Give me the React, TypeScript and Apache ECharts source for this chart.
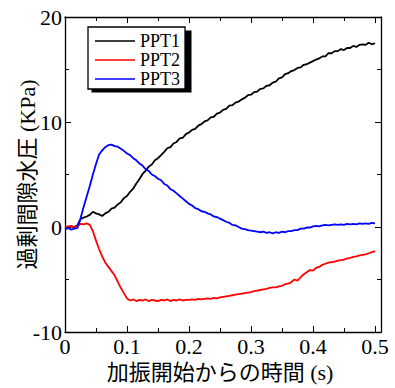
import React, { useEffect, useRef } from "react";
import * as echarts from "echarts";

const seriesNames = ["PPT1", "PPT2", "PPT3"];
const seriesColors = ["#000000", "#ff0000", "#0000ff"];

const timeS = [
  0, 0.005, 0.01, 0.015, 0.02, 0.025, 0.03, 0.035, 0.04, 0.045,
  0.05, 0.055, 0.06, 0.065, 0.07, 0.075, 0.08, 0.085, 0.09, 0.095,
  0.1, 0.105, 0.11, 0.115, 0.12, 0.125, 0.13, 0.135, 0.14, 0.145,
  0.15, 0.155, 0.16, 0.165, 0.17, 0.175, 0.18, 0.185, 0.19, 0.195,
  0.2, 0.205, 0.21, 0.215, 0.22, 0.225, 0.23, 0.235, 0.24, 0.245,
  0.25, 0.255, 0.26, 0.265, 0.27, 0.275, 0.28, 0.285, 0.29, 0.295,
  0.3, 0.305, 0.31, 0.315, 0.32, 0.325, 0.33, 0.335, 0.34, 0.345,
  0.35, 0.355, 0.36, 0.365, 0.37, 0.375, 0.38, 0.385, 0.39, 0.395,
  0.4, 0.405, 0.41, 0.415, 0.42, 0.425, 0.43, 0.435, 0.44, 0.445,
  0.45, 0.455, 0.46, 0.465, 0.47, 0.475, 0.48, 0.485, 0.49, 0.495,
  0.5,
];

const ppt1 = [
  0.0, -0.05, 0.05, 0.0, 0.15, 0.75, 0.9, 1.0, 1.15, 1.45,
  1.3, 1.2, 1.05, 1.3, 1.45, 1.75, 1.85, 2.15, 2.35, 2.75,
  2.95, 3.35, 3.65, 4.15, 4.55, 5.05, 5.35, 5.75, 5.95, 6.35,
  6.55, 6.85, 7.15, 7.5, 7.6, 7.95, 8.1, 8.45, 8.5, 8.85,
  9.0, 9.25, 9.35, 9.65, 9.8, 10.05, 10.15, 10.45, 10.5, 10.8,
  10.9, 11.15, 11.25, 11.55, 11.6, 11.85, 11.95, 12.15, 12.3, 12.55,
  12.6, 12.85, 12.9, 13.15, 13.2, 13.45, 13.5, 13.75, 13.85, 14.15,
  14.25, 14.55, 14.65, 14.85, 14.95, 15.15, 15.2, 15.45, 15.5, 15.65,
  15.8, 15.95, 16.05, 16.25, 16.25, 16.55, 16.55, 16.75, 16.75, 16.95,
  16.85, 17.05, 17.05, 17.25, 17.15, 17.35, 17.4, 17.35, 17.55, 17.4,
  17.5,
];

const ppt2 = [
  0.0, 0.05, 0.1, -0.05, 0.1, 0.3, 0.25, 0.35, 0.2, -0.4,
  -1.3, -2.1, -2.8, -3.4, -3.8, -4.2, -4.6, -5.2, -5.8, -6.3,
  -6.8, -7.0, -6.9, -7.05, -6.95, -7.0, -6.9, -7.05, -6.95, -7.0,
  -7.05, -6.95, -7.0, -6.9, -7.05, -6.95, -7.0, -6.9, -7.0, -6.95,
  -6.95, -6.9, -6.95, -6.85, -6.9, -6.85, -6.8, -6.85, -6.75, -6.8,
  -6.7, -6.65, -6.6, -6.55, -6.5, -6.45, -6.4, -6.35, -6.3, -6.25,
  -6.2, -6.1, -6.05, -6.0, -5.95, -5.9, -5.8, -5.75, -5.75, -5.65,
  -5.6, -5.45, -5.4, -5.25, -5.0, -5.1, -4.8, -4.5, -4.3, -4.1,
  -4.15, -3.9, -3.8, -3.6, -3.5, -3.4, -3.35, -3.3, -3.2, -3.15,
  -3.1, -3.0, -2.95, -2.85, -2.8, -2.7, -2.65, -2.6, -2.5, -2.4,
  -2.3,
];

const ppt3 = [
  -0.2, -0.1, -0.25, -0.15, -0.1, 0.8, 1.9, 2.9, 3.9, 5.0,
  6.0, 6.9, 7.3, 7.6, 7.8, 7.85, 7.7, 7.65, 7.45, 7.25,
  7.0, 6.85, 6.55, 6.35, 6.05, 5.85, 5.5, 5.35, 5.0, 4.85,
  4.6, 4.45, 4.1, 3.95, 3.6, 3.45, 3.2, 2.95, 2.7, 2.45,
  2.2, 2.05, 1.8, 1.7, 1.5, 1.45, 1.3, 1.2, 1.0, 0.95,
  0.8, 0.65, 0.5, 0.4, 0.2, 0.15, 0.0, -0.15, -0.2, -0.3,
  -0.35, -0.4, -0.45, -0.5, -0.45, -0.55, -0.5, -0.6, -0.5, -0.55,
  -0.45, -0.5, -0.4, -0.4, -0.3, -0.3, -0.15, -0.15, -0.05, -0.05,
  0.05, 0.1, 0.05, 0.15, 0.2, 0.15, 0.2, 0.25, 0.2, 0.25,
  0.2, 0.3, 0.25, 0.3, 0.25, 0.35, 0.3, 0.35, 0.3, 0.4,
  0.35,
];

const xTitle = "加振開始からの時間 (s)";
const yTitle = "過剰間隙水圧 (KPa)";

const FONT = "Liberation Serif, Noto Sans CJK JP, serif";

export default function App() {
  const ref = useRef<HTMLDivElement>(null);
  useEffect(() => {
    if (!ref.current) return;
    document.body.style.margin = "0";
    const chart = echarts.init(ref.current, undefined, { renderer: "svg" });
    const allSeries = [ppt1, ppt2, ppt3];
    const lineCol = "#000";
    const frameAxis = (pos: string, gridIndex: number) => ({
      type: "value",
      gridIndex,
      position: pos,
      min: 0,
      max: 1,
      axisLine: { show: true, onZero: false, lineStyle: { color: lineCol, width: 1.3 } },
      axisTick: { show: false },
      axisLabel: { show: false },
      splitLine: { show: false },
    });
    const tickX = (pos: string, labels: boolean) => ({
      type: "value",
      gridIndex: 1,
      position: pos,
      min: 0,
      max: 0.5,
      interval: 0.1,
      axisLine: { show: false, onZero: false },
      axisTick: { show: true, inside: true, length: 6, lineStyle: { color: lineCol, width: 1 } },
      minorTick: { show: true, splitNumber: 2, length: 4, lineStyle: { color: lineCol, width: 1 } },
      axisLabel: {
        show: labels,
        margin: 3,
        fontSize: 22,
        fontFamily: FONT,
        color: "#000",
      },
      splitLine: { show: false },
      name: labels ? xTitle : "",
      nameLocation: "middle",
      nameGap: 29,
      nameMoveOverlap: false,
      nameTextStyle: { fontSize: 22, fontFamily: FONT, color: "#000" },
    });
    const tickY = (pos: string, labels: boolean) => ({
      type: "value",
      gridIndex: 0,
      position: pos,
      min: -10,
      max: 20,
      interval: 10,
      axisLine: { show: true, onZero: false, lineStyle: { color: lineCol, width: 1.3 } },
      axisTick: { show: true, inside: true, length: 6, lineStyle: { color: lineCol, width: 1 } },
      minorTick: { show: true, splitNumber: 2, length: 4, lineStyle: { color: lineCol, width: 1 } },
      axisLabel: {
        show: labels,
        margin: 3,
        fontSize: 22,
        fontFamily: FONT,
        color: "#000",
      },
      splitLine: { show: false },
      name: labels ? yTitle : "",
      nameLocation: "middle",
      nameGap: 27,
      nameMoveOverlap: false,
      nameTextStyle: { fontSize: 22, fontFamily: FONT, color: "#000" },
    });
    chart.setOption({
      animation: false,
      backgroundColor: "#fff",
      grid: [
        { left: 65, top: 17, right: 14, bottom: 56 },
        { left: 65, top: 17, right: 20, bottom: 56 },
      ],
      xAxis: [
        frameAxis("bottom", 0),
        frameAxis("top", 0),
        tickX("bottom", true),
        tickX("top", false),
      ],
      yAxis: [
        tickY("left", true),
        tickY("right", false),
        {
          type: "value",
          gridIndex: 1,
          min: -10,
          max: 20,
          show: false,
        },
      ],
      graphic: [
        {
          type: "rect",
          z: 0,
          shape: { x: 91.5, y: 30.5, width: 100, height: 62 },
          style: { fill: "#000" },
          silent: true,
        },
      ],
      legend: {
        orient: "vertical",
        left: 88,
        top: 27,
        z: 10,
        padding: [5, 5, 1, 7],
        itemGap: 1,
        itemWidth: 40,
        itemHeight: 1.6,
        icon: "rect",
        backgroundColor: "#fff",
        borderColor: "#000",
        borderWidth: 1.3,
        textStyle: { fontSize: 18, lineHeight: 18, fontFamily: FONT, color: "#000" },
        data: seriesNames,
      },
      series: allSeries.map((vals, i) => ({
        name: seriesNames[i],
        type: "line",
        xAxisIndex: 2,
        yAxisIndex: 2,
        showSymbol: false,
        symbol: "none",
        color: seriesColors[i],
        lineStyle: { color: seriesColors[i], width: 1.8 },
        data: timeS.map((t, j) => [t, vals[j]]),
      })),
    });
    return () => chart.dispose();
  }, []);
  return (
    <div
      ref={ref}
      style={{ position: "absolute", left: 0, top: 0, width: 395, height: 388 }}
    />
  );
}
